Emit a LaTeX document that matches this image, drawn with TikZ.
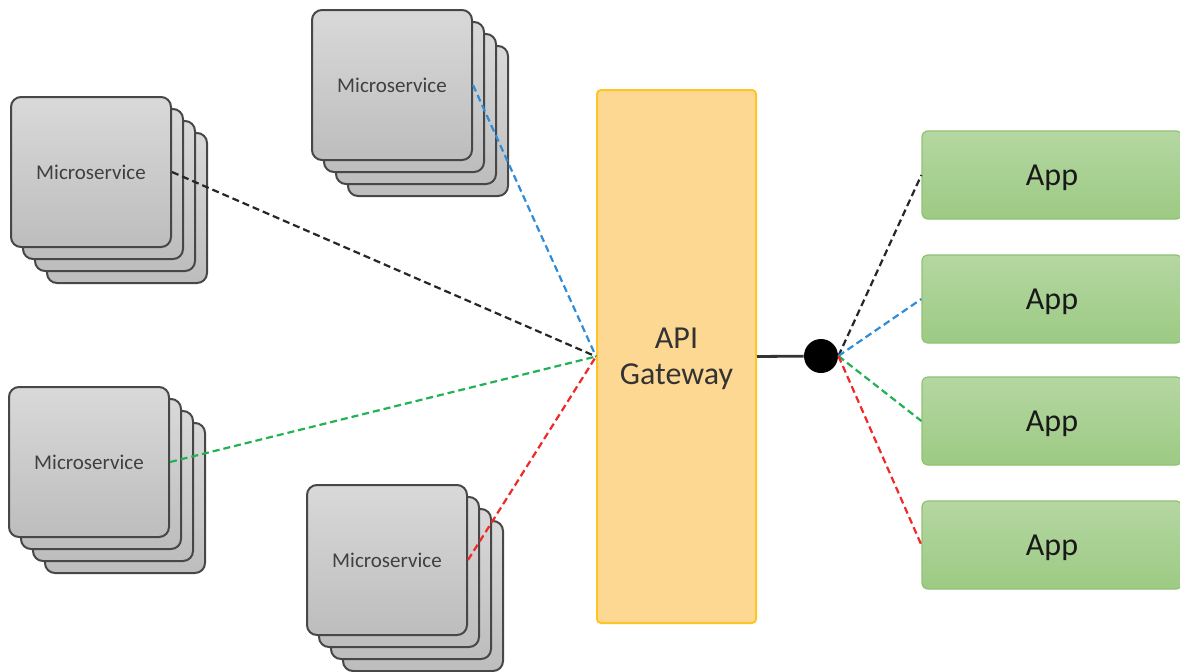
\documentclass[tikz,border=0pt]{standalone}
\usepackage{fontspec}
\setmainfont{Carlito}
\usetikzlibrary{positioning}

\definecolor{msline}{HTML}{474747}
\definecolor{mstop}{HTML}{D9D9D9}
\definecolor{msbot}{HTML}{BDBDBD}
\definecolor{gwfill}{HTML}{FDD893}
\definecolor{gwline}{HTML}{FFC425}
\definecolor{apptop}{HTML}{B5D7A2}
\definecolor{appbot}{HTML}{9CCA83}
\definecolor{appline}{HTML}{8FC372}
\definecolor{lblue}{HTML}{2F8CD8}
\definecolor{lgreen}{HTML}{22B254}
\definecolor{lred}{HTML}{F02828}

\tikzset{msbox/.style = {draw=msline, line width=1pt, rounded corners=5pt,
                         top color=mstop, bottom color=msbot,
                         minimum width=80pt, minimum height=75pt,
                         text=black!75, font=\fontsize{10.5}{12}\selectfont}}
\tikzset{gateway/.style = {draw=gwline, line width=1pt, rounded corners=2pt,
                           fill=gwfill, minimum width=79.5pt, minimum height=266.5pt,
                           align=center, text=black!80, text depth=0pt,
                           font=\fontsize{16}{18}\selectfont}}
\tikzset{appbox/.style = {draw=appline, line width=0.6pt, rounded corners=3pt,
                          top color=apptop, bottom color=appbot,
                          minimum width=130pt, minimum height=44pt, text depth=0pt,
                          text=black!90, font=\fontsize{16}{18}\selectfont}}
\tikzset{link/.style = {line width=1.1pt, dash pattern=on 3.5pt off 2pt}}
\tikzset{hub/.style = {fill, circle, inner sep = 0, minimum size = 17pt}}

% one stack of four cards, front card named #1
\newcommand{\msstack}[3]{%
  \foreach \k in {3,2,1}
    \node [msbox] at (#2+12*\k, #3+12*\k) {};
  \node [msbox] (#1) at (#2, #3) {Microservice};
}

\begin{document}
\begin{tikzpicture}[x=0.5pt, y=-0.5pt]
      \clip (0, 0) rectangle (1180, 671);
      \fill [white] (0, 0) rectangle (1180, 671);

      \msstack{ms1}{91}{172}
      \msstack{ms2}{392}{85}
      \msstack{ms3}{89}{462}
      \msstack{ms4}{387}{560}

      \node [gateway] (gw) at (676.5, 356.5) {API\\Gateway};
      \node [hub] (hub) at (821, 356) {};

      \node [appbox] (app1) at (1052, 175) {App};
      \node [appbox] (app2) at (1052, 299) {App};
      \node [appbox] (app3) at (1052, 421) {App};
      \node [appbox] (app4) at (1052, 545) {App};

      \draw [line width=1.4pt, black!80] (gw.east) -- (hub);

      \draw [link, black!85] (ms1.east) -- (gw.west);
      \draw [link, lblue] (ms2.east) -- (gw.west);
      \draw [link, lgreen] (ms3.east) -- (gw.west);
      \draw [link, lred] (ms4.east) -- (gw.west);

      \draw [link, black!85] (hub.east) -- (app1.west);
      \draw [link, lblue] (hub.east) -- (app2.west);
      \draw [link, lgreen] (hub.east) -- (app3.west);
      \draw [link, lred] (hub.east) -- (app4.west);
    \end{tikzpicture}
\end{document}
